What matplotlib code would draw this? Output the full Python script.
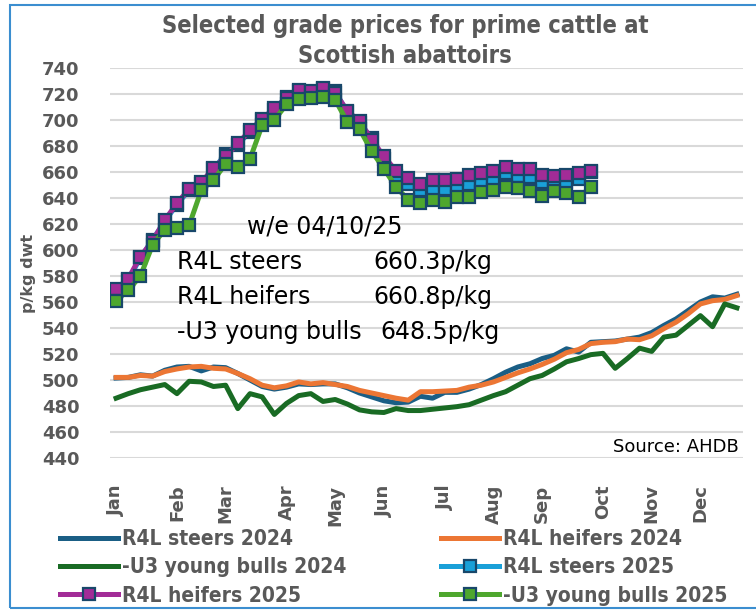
import matplotlib
matplotlib.use('Agg')
import matplotlib.pyplot as plt
from matplotlib.patches import Rectangle
from matplotlib import font_manager as fm

# ---------------- data ----------------
month_labels = ['Jan', 'Feb', 'Mar', 'Apr', 'May', 'Jun', 'Jul', 'Aug', 'Sep', 'Oct', 'Nov', 'Dec']
month_week_index = [0, 5, 9, 14, 18, 22, 27, 31, 35, 40, 44, 48]

steers_2024 = [501.5, 502, 504, 503, 507.5, 510, 510.5, 507, 510, 509.5,
               505, 500, 495, 493, 494.5, 497, 496.5, 497, 497, 494,
               490, 487, 484, 482.5, 483, 487.5, 486, 490.5, 490.5, 493,
               496.5, 501, 506, 510, 512.5, 516.5, 519, 524, 521.5, 529,
               529.5, 530, 531.5, 533, 536.5, 542, 547, 553.5, 560, 564,
               563, 566]
heifers_2024 = [502, 502, 503.5, 503, 506.5, 508.5, 510, 510.5, 509, 508.5,
                505, 501, 496, 494, 495.5, 498.5, 497, 498, 496.5, 495,
                492, 490, 488, 486, 484.5, 491, 491, 491.5, 492, 494.5,
                496, 498.5, 502, 505.5, 508.5, 512, 516, 521, 523.5, 528,
                529, 529.5, 531.5, 531, 534, 539.5, 544.5, 551, 558.5, 561,
                562, 565]
bulls_2024 = [486, 489.5, 492.5, 494.5, 496.5, 489.5, 499, 498.5, 495, 496,
              478, 489.5, 487, 473.5, 482, 488, 489.5, 483.5, 485, 481.5,
              477, 475.5, 475, 478, 476.5, 476.5, 477.5, 478.5, 479.5, 481,
              484.5, 488, 491, 496, 501, 503.5, 508.5, 514, 516.5, 519.5,
              520.5, 509, 516.5, 524.5, 522, 533, 534.5, 542, 549.5, 541,
              558.5, 555.5]
steers_2025 = [568, 577, 594, 608, 622, 635, 646, 651, 662, 674,
               681, 691, 700, 708, 718, 722, 721, 724, 722, 706,
               698, 686, 670, 657, 651, 646, 647, 647, 649, 651,
               652, 655, 659, 657, 656, 652, 651, 652, 655, 660.3]
heifers_2025 = [570, 578, 595, 607, 623, 636, 647, 652, 663, 672,
                682, 692, 701, 709, 717, 723, 722.5, 725, 721, 707,
                699, 685, 672, 661, 655.5, 650.5, 654, 653.5, 655, 657.5,
                659, 660.5, 664, 662, 662, 657.5, 657, 658, 659.5, 660.8]
bulls_2025 = [561, 569, 580, 604, 615.5, 617, 619, 646, 654, 666,
              664, 670, 696, 700, 712, 716.5, 717, 718, 715.5, 698.5,
              693, 676, 662.5, 648.5, 638.5, 636.5, 638.5, 637, 641, 641,
              645, 646, 648.5, 647.5, 645.5, 641.5, 645.5, 644, 640.5, 648.5]

series_names = ['R4L steers 2024', 'R4L heifers 2024', '-U3 young bulls 2024',
                'R4L steers 2025', 'R4L heifers 2025', '-U3 young bulls 2025']

annot_date = 'w/e 04/10/25'
annot_labels = ['R4L steers', 'R4L heifers', '-U3 young bulls']
annot_values = ['660.3p/kg', '660.8p/kg', '648.5p/kg']

# ---------------- style ----------------
GRAY = '#595959'
C_STEER24 = '#1A5E85'
C_HEIF24 = '#EC7634'
C_BULL24 = '#196B24'
C_STEER25 = '#1AA0D8'
C_HEIF25 = '#A22C97'
C_BULL25 = '#4EA72E'
C_EDGE = '#18476A'

narrow = fm.FontProperties(family='DejaVu Sans', weight='bold', stretch='condensed')

W, H = 756, 610
fig = plt.figure(figsize=(W / 100, H / 100), dpi=100)
ax = fig.add_axes([110 / W, 1 - 458 / H, (743 - 110) / W, (458 - 68) / H])

x24 = list(range(len(steers_2024)))
x25 = list(range(len(steers_2025)))

lw = 3.6
h1, = ax.plot(x24, steers_2024, color=C_STEER24, lw=lw, solid_joinstyle='round', zorder=3)
h2, = ax.plot(x24, heifers_2024, color=C_HEIF24, lw=lw, solid_joinstyle='round', zorder=3)
h3, = ax.plot(x24, bulls_2024, color=C_BULL24, lw=lw, solid_joinstyle='round', zorder=3)
mk = dict(marker='s', markersize=9, markeredgewidth=1.6, markeredgecolor=C_EDGE, lw=lw,
          solid_joinstyle='round', zorder=4)
h4, = ax.plot(x25, steers_2025, color=C_STEER25, markerfacecolor=C_STEER25, **mk)
h5, = ax.plot(x25, heifers_2025, color=C_HEIF25, markerfacecolor=C_HEIF25, **mk)
h6, = ax.plot(x25, bulls_2025, color=C_BULL25, markerfacecolor=C_BULL25, **mk)
for h, n in zip([h1, h2, h3, h4, h5, h6], series_names):
    h.set_label(n)

ax.set_xlim(-0.5, len(steers_2024) - 0.5)
ax.set_ylim(440, 740)
ax.set_yticks(range(440, 741, 20))
ax.set_xticks(month_week_index)
ax.set_xticklabels(month_labels, rotation=90)
ax.grid(axis='y', color='#D9D9D9', lw=1.5, zorder=0)
ax.set_axisbelow(True)
for s in ax.spines.values():
    s.set_visible(False)
ax.tick_params(axis='both', length=0, colors=GRAY, labelsize=13)
ax.tick_params(axis='y', pad=22)
ax.tick_params(axis='x', pad=19)
for lab in ax.get_xticklabels() + ax.get_yticklabels():
    lab.set_fontweight('bold')
    lab.set_color(GRAY)

ax.set_ylabel('p/kg dwt', fontsize=11.5, fontweight='bold', color=GRAY)
ax.yaxis.set_label_coords((36 - 110) / (743 - 110), (458 - 273) / (458 - 68))

# title
tp = narrow.copy()
tp.set_size(17)
fig.text(405 / W, 1 - 26 / H, 'Selected grade prices for prime cattle at', ha='center', va='center',
         fontproperties=tp, color=GRAY)
fig.text(405 / W, 1 - 56 / H, 'Scottish abattoirs', ha='center', va='center',
         fontproperties=tp, color=GRAY)

# annotations
fs = 17
fig.text(247 / W, 1 - 227 / H, annot_date, ha='left', va='center', fontsize=fs, color='black')
ys = [262, 297, 332]
vx = [373, 373, 380]
for lab, val, yy, xx in zip(annot_labels, annot_values, ys, vx):
    fig.text(177 / W, 1 - yy / H, lab, ha='left', va='center', fontsize=fs, color='black')
    fig.text(xx / W, 1 - yy / H, val, ha='left', va='center', fontsize=fs, color='black')

fig.text(739 / W, 1 - 447 / H, 'Source: AHDB', ha='right', va='center', fontsize=13, color='black')

# legend (Excel row-wise order -> reorder for matplotlib column-wise fill)
handles = [h1, h3, h5, h2, h4, h6]
lp = narrow.copy()
lp.set_size(15)
leg = fig.legend(handles=handles, labels=[h.get_label() for h in handles], ncol=2,
                 loc='upper left', bbox_to_anchor=(60 / W, 1 - 529 / H), frameon=False,
                 prop=lp, handlelength=2.8, handletextpad=0.2, columnspacing=4.5,
                 labelspacing=0.4, borderpad=0, borderaxespad=0)
for t in leg.get_texts():
    t.set_color(GRAY)

# outer border
fig.patches.append(Rectangle((10 / W, 2 / H), 1.2, 1 - 7 / H, transform=fig.transFigure,
                             fill=False, edgecolor='#3B8ED0', lw=1.5))

fig.savefig('out.png', dpi=100)
